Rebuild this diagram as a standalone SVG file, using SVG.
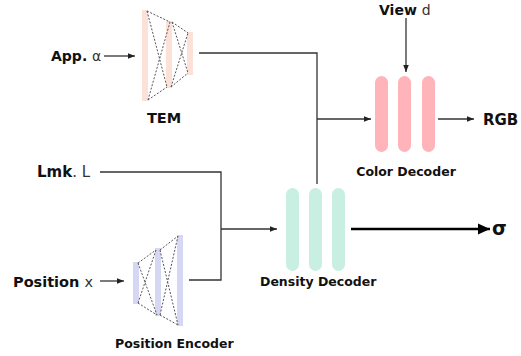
<svg xmlns="http://www.w3.org/2000/svg" width="521" height="356" viewBox="0 0 521 356">
<defs>
<marker id="ah" viewBox="0 0 10 10" refX="10" refY="5" markerWidth="7" markerHeight="7" markerUnits="userSpaceOnUse" orient="auto"><path d="M0,1 L10,5 L0,9 z" fill="#222"/></marker>
<marker id="ahb" viewBox="0 0 10 10" refX="10" refY="5" markerWidth="14" markerHeight="12" markerUnits="userSpaceOnUse" orient="auto"><path d="M0,0.5 L10,5 L0,9.5 z" fill="#000"/></marker>
<style>
.b{font-family:"DejaVu Sans","Liberation Sans",sans-serif;font-weight:bold;fill:#111}
.r{font-family:"DejaVu Sans","Liberation Sans",sans-serif;font-weight:normal;fill:#333}
.lab{font-family:"DejaVu Sans","Liberation Sans",sans-serif;font-weight:bold;font-size:12.5px;fill:#111}
.c{fill:none;stroke:#333;stroke-width:1.3}
.d{fill:none;stroke:#555;stroke-width:1;stroke-dasharray:2 1.6}
.tem{fill:#fbe1d8}
.pe{fill:#d6d6f5}
.cd{fill:#ffb4b9}
.dd{fill:#c9efe2}
</style>
</defs>
<g id="connectors">
<line class="c" x1="104" y1="56" x2="135" y2="56" marker-end="url(#ah)"/>
<path class="c" d="M199,53 H317 V184"/>
<line class="c" x1="317" y1="119" x2="371" y2="119" marker-end="url(#ah)"/>
<line class="c" x1="406" y1="18" x2="406" y2="72" marker-end="url(#ah)"/>
<line class="c" x1="438" y1="119" x2="474" y2="119" marker-end="url(#ah)"/>
<path class="c" d="M100,172 H221 V280 H189"/>
<line class="c" x1="221" y1="229" x2="277" y2="229" marker-end="url(#ah)"/>
<line class="c" x1="100" y1="281" x2="124" y2="281" marker-end="url(#ah)"/>
<line x1="351" y1="229" x2="490" y2="229" stroke="#000" stroke-width="2.6" marker-end="url(#ahb)"/>
</g>
<g id="app">
<text class="b" x="51" y="61" font-size="14">App. <tspan class="r">α</tspan></text>
</g>
<g id="tem">
<rect class="tem" x="142" y="10" width="6" height="91"/>
<rect class="tem" x="166" y="21" width="6" height="67"/>
<rect class="tem" x="187" y="32" width="6" height="43"/>
<path class="d" d="M147,11 L170,22 M147,11 L167,87 M148,100 L170,22 M148,100 L167,87 M172,22 L188,33 M172,22 L188,73 M171,87 L188,33 M171,87 L188,73"/>
<text class="lab" x="164" y="123" text-anchor="middle" style="font-size:14.5px">TEM</text>
</g>
<g id="view">
<text class="b" x="379" y="15" font-size="14">View <tspan class="r">d</tspan></text>
</g>
<g id="color-decoder">
<rect class="cd" x="375" y="76" width="13" height="76" rx="6.5"/>
<rect class="cd" x="398" y="76" width="13" height="76" rx="6.5"/>
<rect class="cd" x="422" y="76" width="13" height="76" rx="6.5"/>
<text class="lab" x="406" y="176" text-anchor="middle">Color Decoder</text>
</g>
<g id="rgb">
<text class="b" x="483" y="125" font-size="15">RGB</text>
</g>
<g id="lmk">
<text class="b" x="37" y="177" font-size="15">Lmk<tspan class="r">. L</tspan></text>
</g>
<g id="density-decoder">
<rect class="dd" x="286" y="188" width="13" height="83" rx="6.5"/>
<rect class="dd" x="309" y="188" width="13" height="83" rx="6.5"/>
<rect class="dd" x="332" y="188" width="13" height="83" rx="6.5"/>
<text class="lab" x="260" y="286">Density Decoder</text>
</g>
<g id="sigma">
<text class="b" x="492" y="235" font-size="19">σ</text>
</g>
<g id="position">
<text class="b" x="13" y="287" font-size="14.5">Position <tspan class="r">x</tspan></text>
</g>
<g id="position-encoder">
<rect class="pe" x="133" y="262" width="6" height="42"/>
<rect class="pe" x="155" y="248" width="6" height="68"/>
<rect class="pe" x="177" y="235" width="6" height="91"/>
<path class="d" d="M138,263 L156,250 M138,263 L157,315 M138,303 L156,250 M138,303 L157,315 M160,250 L178,236 M160,250 L178,325 M160,315 L178,236 M160,315 L178,325"/>
<text class="lab" x="115" y="348">Position Encoder</text>
</g>
</svg>
